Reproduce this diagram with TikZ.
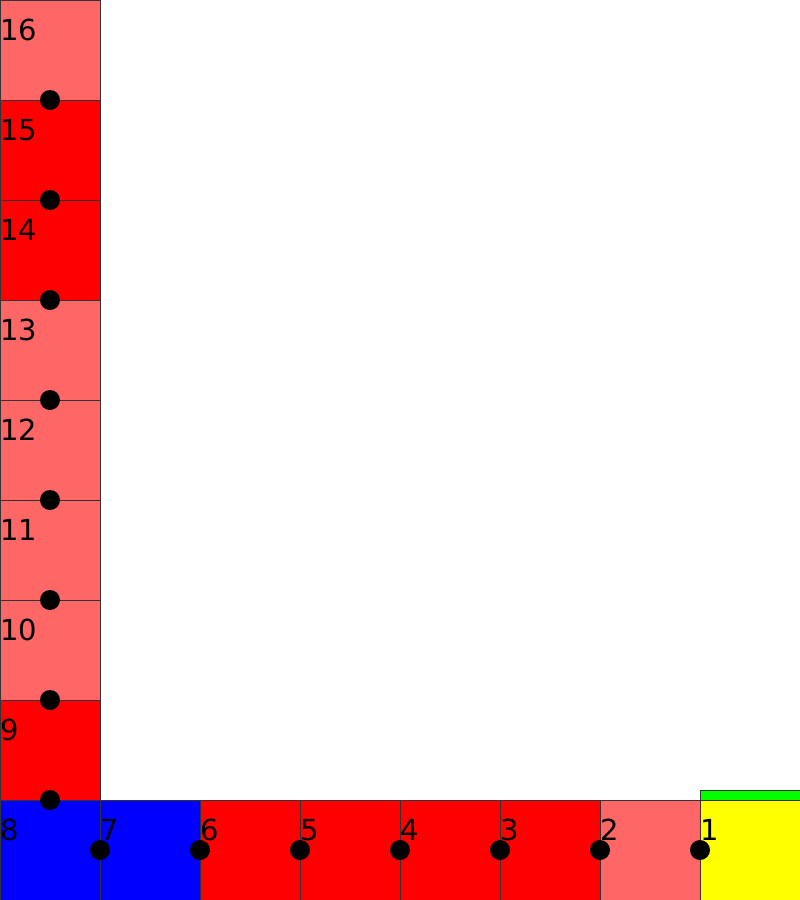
\documentclass[tikz,border=0pt]{standalone}
\usepackage{fontspec}
\setmainfont{DejaVu Sans}
\definecolor{lred}{HTML}{FF6666}
\definecolor{fred}{HTML}{FF0000}
\definecolor{fblue}{HTML}{0000FF}
\definecolor{fyellow}{HTML}{FFFF00}
\definecolor{fgreen}{HTML}{00FF00}
\definecolor{edge}{HTML}{333333}
\begin{document}
\begin{tikzpicture}[x=1pt,y=-1pt,
  cell/.style={draw=edge,line width=1pt,minimum width=100pt,minimum height=100pt,inner sep=0pt,outer sep=0pt,anchor=north west},
  lab/.style={anchor=base west,inner sep=0pt,font=\fontsize{29}{34}\selectfont},
  dot/.style={circle,fill=black,minimum size=20pt,inner sep=0pt}]
\useasboundingbox (0,0) rectangle (800,900);
% bottom row
\foreach \k/\c in {1/fyellow,2/lred,3/fred,4/fred,5/fred,6/fred,7/fblue,8/fblue}{
  \node[cell,fill=\c] (c\k) at ({800-100*\k},800) {};
}
% left column
\foreach \k/\c in {9/fred,10/lred,11/lred,12/lred,13/lred,14/fred,15/fred,16/lred}{
  \node[cell,fill=\c] (c\k) at (0,{800-100*(\k-8)}) {};
}
\node[draw=edge,line width=1pt,fill=fgreen,minimum width=100pt,minimum height=10pt,inner sep=0pt,outer sep=0pt,anchor=south west] (bar) at (c1.north west) {};
% labels
\foreach \k in {1,...,16}{
  \node[lab] (l\k) at ([yshift=-40pt]c\k.north west) {\k};
}
% dots
\foreach \k in {1,...,7}{
  \node[dot] (d\k) at (c\k.west) {};
}
\foreach \k in {9,...,16}{
  \node[dot] (d\k) at (c\k.south) {};
}
\end{tikzpicture}
\end{document}
